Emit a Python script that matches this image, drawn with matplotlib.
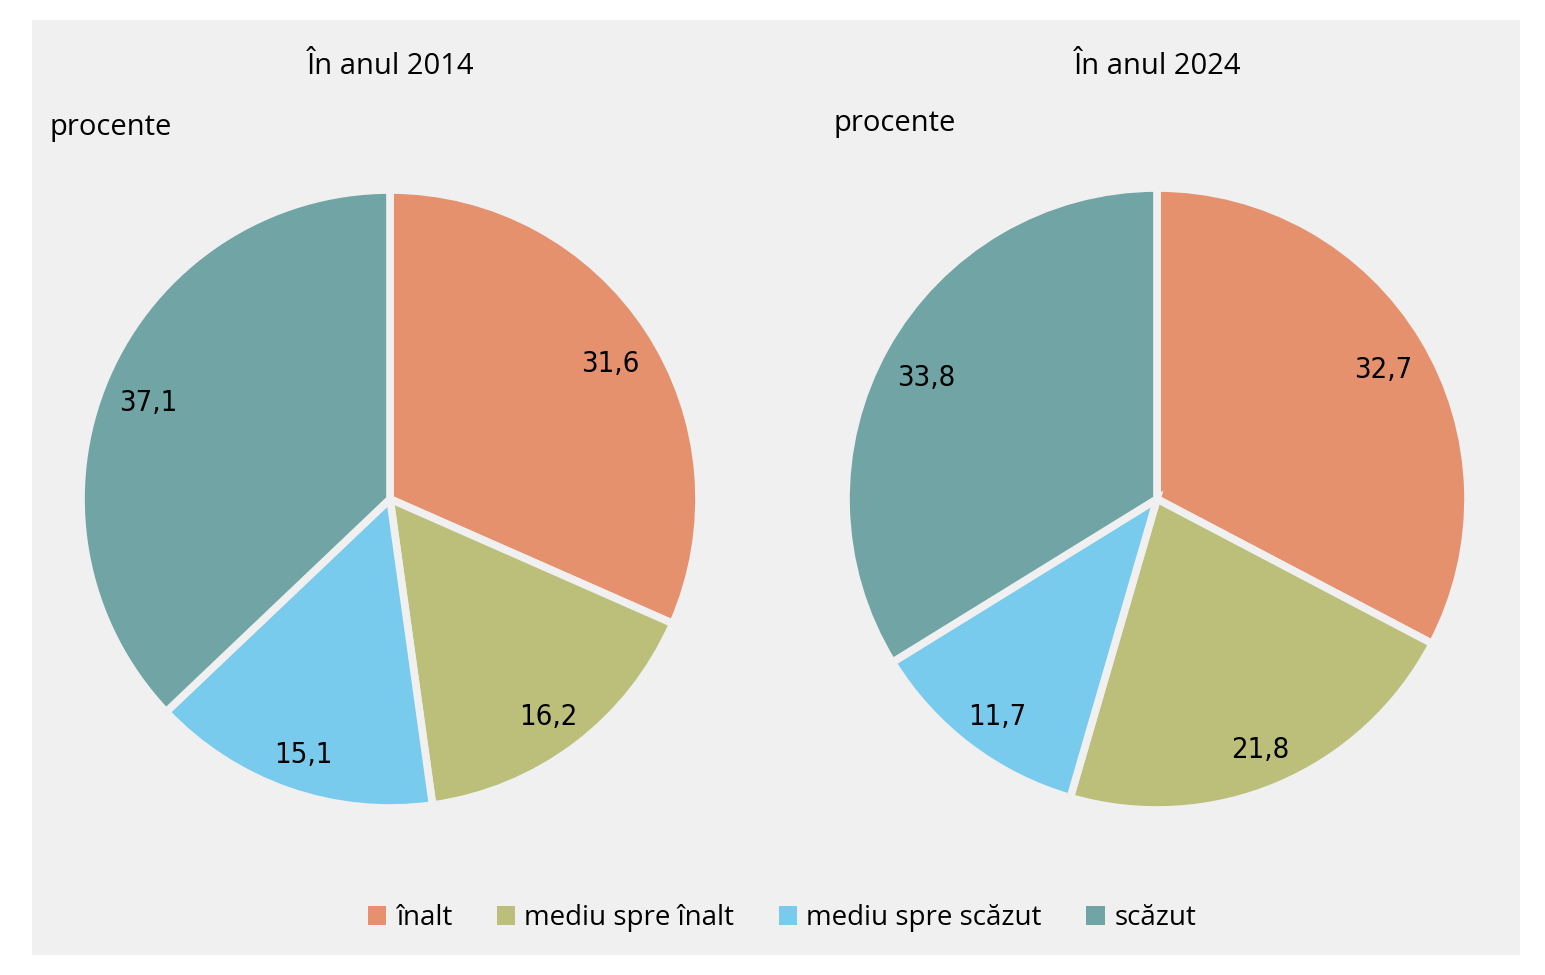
import matplotlib.pyplot as plt
import numpy as np
from matplotlib.patches import Rectangle, Patch

categories = ["înalt", "mediu spre înalt", "mediu spre scăzut", "scăzut"]
values_2014 = [31.6, 16.2, 15.1, 37.1]
values_2024 = [32.7, 21.8, 11.7, 33.8]
titles = ["În anul 2014", "În anul 2024"]
colors = ["#E5916E", "#BCBF7A", "#79CBEE", "#71A5A5"]

W, H = 1545, 975
bg = "#F0F0F0"
plt.rcParams["font.family"] = ["Open Sans", "DejaVu Sans"]

fig = plt.figure(figsize=(W / 100, H / 100), dpi=100)
fig.patch.set_facecolor("white")
fig.patches.append(Rectangle((32 / W, 1 - 955 / H), (1520 - 32) / W, (955 - 20) / H,
                             transform=fig.transFigure, facecolor=bg, edgecolor="none", zorder=-5))


def fmt(v):
    return f"{v:.1f}".replace(".", ",")


def draw_pie(cx, cy, r, values, title, procente_xy):
    ax = fig.add_axes([(cx - r) / W, 1 - (cy + r) / H, 2 * r / W, 2 * r / H])
    ax.set_facecolor("none")
    ax.set_zorder(2)
    ax.pie(values, colors=colors, startangle=90, counterclock=False,
           radius=1, wedgeprops=dict(edgecolor=bg, linewidth=5.5))
    # value labels inside the slices
    ang = 90.0
    total = sum(values)
    for v in values:
        mid = ang - v / total * 360 / 2
        ang -= v / total * 360
        x = 0.85 * np.cos(np.radians(mid))
        y = 0.85 * np.sin(np.radians(mid)) - 0.026
        ax.text(x, y, fmt(v), ha="center", va="center", fontsize=21,
                family=["DejaVu Sans"], fontstretch="condensed", color="black")
    ax.set_xlim(-1, 1)
    ax.set_ylim(-1, 1)
    ax.axis("off")
    fig.text(cx / W, 1 - 66 / H, title, ha="center", va="center", fontsize=21)
    fig.text(procente_xy[0] / W, 1 - procente_xy[1] / H, "procente",
             ha="left", va="center", fontsize=21)


draw_pie(390, 499, 309, values_2014, titles[0], (50, 127))
draw_pie(1157, 499, 311, values_2024, titles[1], (834, 124))

handles = [Patch(facecolor=c, edgecolor="none") for c in colors]
fig.legend(handles, categories, loc="center", bbox_to_anchor=(782 / W, 1 - 918 / H),
           ncol=4, frameon=False, fontsize=20, handlelength=0.65, handleheight=0.65,
           handletextpad=0.35, columnspacing=1.6)

plt.savefig("out.png", dpi=100, facecolor=fig.get_facecolor())
